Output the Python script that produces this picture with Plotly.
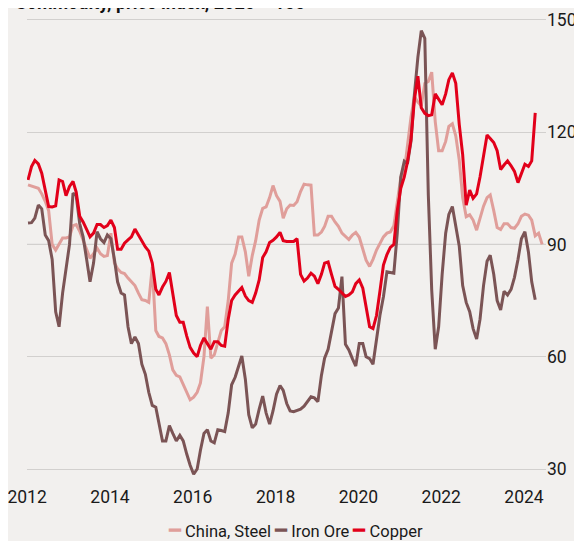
import pandas as pd
import plotly.graph_objects as go

# Monthly index values (2020 = 100), Jan 2012 onward
china_steel = [105.9, 105.6, 105.3, 105, 103.5, 101.5, 99, 90, 88.5, 90, 91.7, 91.7,
               92, 95, 95.3, 93.5, 91, 88.5, 86.3, 87.5, 89, 87.5, 86.8, 87,
               93, 85, 83.5, 82.5, 82.2, 81, 80, 79, 77, 75.2, 75, 74.5,
               84, 67, 65.4, 65, 63.5, 60.5, 56.5, 55, 54.6, 52.5, 50.8, 48.5,
               49.2, 50.5, 53, 60, 73.4, 59.6, 60.5, 63.5, 67, 68, 75, 85,
               87.4, 92, 92, 88, 81.5, 87, 91, 96.5, 99.6, 100, 102.5, 105.7,
               103, 101.5, 97, 99.5, 100.5, 100.4, 101.4, 104.1, 106.1, 105.9, 105.8, 92.5,
               92.5, 93.3, 94.8, 97.5, 97.5, 96, 94.8, 93, 92, 91.3, 92.5, 93.2,
               91.9, 89, 85.8, 84.1, 86, 88.5, 90.3, 92, 93, 93.3, 95, 101,
               107.8, 109.5, 117, 124, 129.5, 128, 127, 133, 133.5, 136, 122.8, 115,
               115, 117.5, 121.5, 122.2, 119, 112.5, 102.5, 97.4, 97.9, 96.5, 93.8, 97,
               100.2, 102.5, 103.2, 99, 94.5, 94, 95.5, 95.5, 94.5, 94.3, 95.5, 97.5,
               98.1, 97.8, 96.5, 92.3, 93, 90]

iron_ore = [95.7, 95.8, 97, 100.5, 99.5, 92.5, 91, 86, 72, 68, 77, 84,
            90, 103.7, 103, 95.5, 92, 86, 80, 85, 93.4, 91.5, 90.5, 92.5,
            91.5, 86, 80, 77, 76.5, 68, 63.5, 65.3, 63.5, 58, 55.3, 50.5,
            47, 46.5, 42, 37.5, 37.5, 41.6, 39.5, 37.5, 39, 37.5, 34, 31,
            28.6, 30, 35, 39.5, 40.5, 37.5, 37, 40.5, 40.3, 40, 45, 52.5,
            54.5, 57.5, 60.2, 54, 44.5, 41, 42, 46, 49.5, 45, 42, 45.5,
            50, 52.3, 51, 47.5, 45.5, 45.3, 45.7, 46, 46.8, 48.2, 49.3, 49,
            48, 55, 59.6, 62, 66.5, 71.5, 73, 81.4, 63.3, 61.8, 59.5, 57.5,
            63.5, 63.5, 60, 59.5, 58, 65, 71, 76, 82.7, 82.5, 82.3, 93,
            108, 112.2, 111.5, 117.5, 130, 140, 147.1, 145, 103.2, 77.8, 62, 68,
            82, 93, 98, 100.1, 95, 89.5, 79, 74.5, 72, 67.5, 64.7, 70,
            79, 85.5, 87.1, 82, 75, 72.5, 77.5, 76.5, 78, 81.2, 86, 91.5,
            93.4, 88, 80, 75.2]

copper = [107.2, 110.8, 112.4, 111.5, 109, 104.6, 100.1, 100, 100.3, 107.2, 106.8, 103,
          105.5, 106.8, 104, 97.5, 96, 94, 92, 93, 95.3, 95.3, 94.5, 95,
          96.5, 94.5, 88.7, 88.7, 90.3, 91.2, 92, 94.1, 92.5, 90.8, 89.3, 88.2,
          85, 78, 76.5, 78.6, 80.1, 82.5, 77, 71, 69.2, 69.2, 65.5, 62.5,
          61, 60, 63, 65, 63.5, 62, 64, 64, 63, 62.8, 70, 75,
          76.5, 77.5, 78.5, 76.2, 75, 74.5, 77, 80.5, 86.5, 88, 90.5, 91.1,
          92, 93.2, 91, 90.8, 90.8, 90.8, 91.5, 82, 80.2, 81, 82.3, 81.5,
          79.5, 82, 85, 85.3, 82, 78.8, 78, 77, 76.1, 76.5, 77.3, 79.5,
          80.5, 78.3, 72.9, 68, 67.5, 71, 77.5, 84.5, 87.3, 89.2, 90, 99,
          105, 108, 112, 118, 128.6, 134.9, 126.5, 125, 124.4, 124.6, 130.2, 128.8,
          127.3, 130.2, 134, 135.8, 133, 122, 114, 100.5, 104.5, 102.3, 103.5, 108,
          113.5, 119.2, 118.3, 117.2, 115, 110, 111.2, 112.3, 111, 109.5, 106.5, 109,
          111.4, 110.8, 112.3, 125.1]

series_names = ["China, Steel", "Iron Ore", "Copper"]
series_colors = ["#e09e9a", "#7b5455", "#e2001a"]
y_ticks = [30, 60, 90, 120, 150]
x_tick_labels = ["2012", "2014", "2016", "2018", "2020", "2022", "2024"]


def month_dates(n):
    return pd.date_range("2012-01-01", periods=n, freq="MS") + pd.Timedelta(days=8)


fig = go.Figure()
for name, vals, col in zip(series_names, [china_steel, iron_ore, copper], series_colors):
    fig.add_trace(go.Scatter(
        x=month_dates(len(vals)), y=vals, name=name, mode="lines",
        line=dict(color=col, width=3), hoverinfo="x+y+name",
    ))

fig.add_hline(y=90, line=dict(color="#b5b3b1", width=1), layer="below")

# legend row drawn as text (coloured dash + series name)
legend_text = " ".join(
    f"<span style='color:{c};font-size:20px'>━</span> {n}"
    for n, c in zip(series_names, series_colors)
)

bg = "#f2f0ee"
fig.update_layout(
    width=574, height=533,
    margin=dict(l=19, r=36, t=8, b=57),
    paper_bgcolor=bg, plot_bgcolor=bg,
    font=dict(family="Roboto, sans-serif", size=17.5, color="#1a1a1a"),
    showlegend=False,
    xaxis=dict(
        type="date",
        range=["2011-12-31", "2024-07-13"],
        tickvals=[f"{y}-01-01" for y in x_tick_labels],
        ticktext=x_tick_labels,
        showgrid=False, zeroline=False, showline=False, ticks="",
        tickfont=dict(size=17.5), automargin=False, ticklabeloverflow="allow",
    ),
    yaxis=dict(
        side="right", range=[26, 151], tickvals=y_ticks,
        showgrid=True, gridcolor="#d2d0ce", gridwidth=1,
        zeroline=False, showline=False, ticks="",
        tickfont=dict(size=17.5), automargin=False, ticklabeloverflow="allow",
    ),
    annotations=[
        dict(
            text="<b>Commodity, price index, 2020 = 100</b>",
            xref="paper", yref="paper", x=-0.027, y=1.0278,
            xanchor="left", yanchor="middle", showarrow=False,
            font=dict(size=18, color="#111111"),
        ),
        dict(
            text=legend_text,
            xref="paper", yref="paper", x=0.518, y=-0.0985,
            xanchor="center", yanchor="middle", showarrow=False,
            font=dict(size=16.5, color="#1a1a1a"),
        ),
    ],
)

fig.write_html("out.html")
